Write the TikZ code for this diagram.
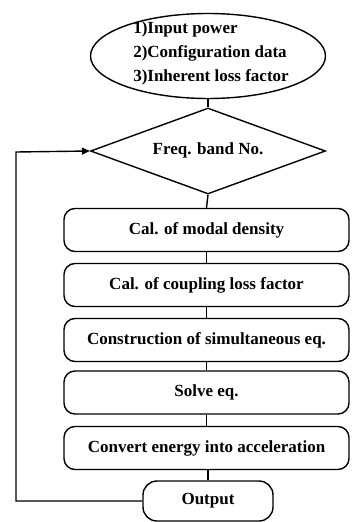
\documentclass[tikz,border=0pt]{standalone}
\usepackage{fontspec}
\setmainfont{Liberation Serif}
\usetikzlibrary{shapes.geometric,arrows.meta}
\begin{document}
\begin{tikzpicture}[x=1pt,y=-1pt,
  lw/.style={line width=1.4pt},
  proc/.style={draw,lw,rounded corners=11pt,minimum width=285pt,minimum height=43pt,font=\bfseries\fontsize{17}{24}\selectfont,inner sep=0pt},
  txt/.style={font=\bfseries\fontsize{17}{24}\selectfont}]
\useasboundingbox (0,0) rectangle (351,522);
\node[draw,lw,ellipse,minimum width=235pt,minimum height=85pt,inner sep=0pt] (in) at (208,56) {};
\node[txt,align=left] (intxt) at (211,53) {1)Input power\\2)Configuration data\\3)Inherent loss factor};
\node[draw,lw,diamond,aspect=2.72,minimum width=235pt,minimum height=86pt,inner sep=0pt] (fb) at (208,151) {};
\node[txt] (fbt) at (208,150) {Freq. band No.};
\node[proc] (b1) at (206.5,230) {Cal. of modal density};
\node[proc] (b2) at (206.5,285) {Cal. of coupling loss factor};
\node[proc] (b3) at (206.5,340) {Construction of simultaneous eq.};
\node[proc] (b4) at (206.5,392.5) {Solve eq.};
\node[proc] (b5) at (206.5,448) {Convert energy into acceleration};
\node[draw,lw,rounded corners=14pt,minimum width=130pt,minimum height=40pt,txt,inner sep=0pt] (out) at (208,501) {Output};
\coordinate (c1) at (16,501);
\coordinate (c2) at (16,152);
\draw[lw] (in.south) -- (fb.north);
\draw[lw] (fb.south) -- (b1.north);
\draw[lw] (b1) -- (b2);
\draw[lw] (b2) -- (b3);
\draw[lw] (b3) -- (b4);
\draw[lw] (b4) -- (b5);
\draw[lw] (b5.south -| out.north) -- (out.north);
\draw[lw,-{Triangle[length=8pt,width=7pt]}] (out.west) -- (c1) -- (c2) -- (fb.west);
\end{tikzpicture}
\end{document}
